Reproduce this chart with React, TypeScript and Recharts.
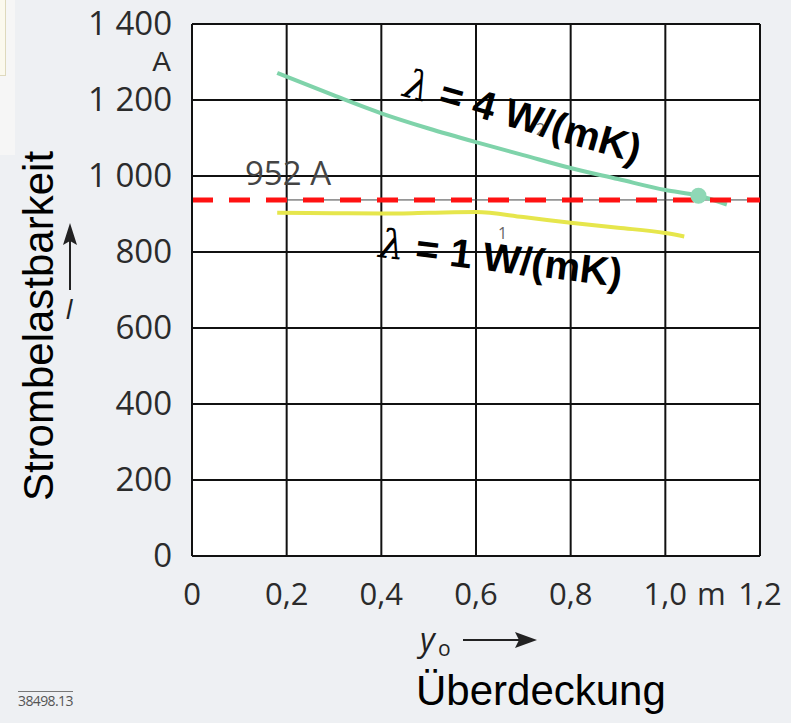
import React from 'react'
import {
    ComposedChart,
    Line,
    Scatter,
    XAxis,
    YAxis,
    CartesianGrid,
    ReferenceLine,
} from 'recharts'

// axis ticks
const xTicks = [0, 0.2, 0.4, 0.6, 0.8, 1.0, 1.2]
const xTickLabels = ['0', '0,2', '0,4', '0,6', '0,8', '1,0', '1,2']
const yTicks = [0, 200, 400, 600, 800, 1000, 1200, 1400]
const yTickLabels = ['0', '200', '400', '600', '800', '1 000', '1 200', '1 400']

// curve 2: lambda = 4 W/(mK)
const lambda4Y0 = [0.18, 0.3, 0.4, 0.5, 0.6, 0.7, 0.8, 0.9, 1.0, 1.07, 1.13]
const lambda4I = [1271, 1212, 1165, 1125, 1089, 1055, 1021, 992, 963, 948, 925]

// curve 1: lambda = 1 W/(mK)
const lambda1Y0 = [0.18, 0.3, 0.4, 0.5, 0.6, 0.7, 0.8, 0.9, 1.0, 1.04]
const lambda1I = [903, 902, 901, 903, 905, 892, 877, 864, 850, 841]

// operating point + limit
const markerY0 = [1.07]
const markerI = [948]
const limitI = 937

const toData = (xs: number[], ys: number[]) => xs.map((x, i) => ({ y0: x, i: ys[i] }))

const FONT = '"Open Sans", sans-serif'
const ARIAL = '"Liberation Sans", Arial, sans-serif'

const XTick = (props: any) => {
    const { x, y, payload, index } = props
    const idx = xTicks.indexOf(payload.value)
    return (
        <g>
            <text x={x} y={y + 49} textAnchor="middle" fontFamily={FONT} fontSize={31} fill="#2b2b2b">
                {xTickLabels[idx >= 0 ? idx : index]}
            </text>
            {payload.value === 1 && (
                <text x={x + 46} y={y + 49} textAnchor="middle" fontFamily={FONT} fontSize={31} fill="#2b2b2b">
                    m
                </text>
            )}
        </g>
    )
}

const YTick = (props: any) => {
    const { y, payload } = props
    const idx = yTicks.indexOf(payload.value)
    return (
        <g>
            <text x={172} y={y + 11} textAnchor="end" fontFamily={FONT} fontSize={33} fill="#2b2b2b">
                {yTickLabels[idx]}
            </text>
            {payload.value === 1400 && (
                <text x={171} y={y + 46.5} textAnchor="end" fontFamily={ARIAL} fontSize={28} fill="#2b2b2b">
                    A
                </text>
            )}
        </g>
    )
}

const Marker = (p: any) => <circle cx={p.cx} cy={p.cy} r={8} fill="#8fd8b6" />

const lambdaStyle: React.CSSProperties = {
    fontFamily: '"DejaVu Serif", serif',
    fontStyle: 'italic',
    fontWeight: 'normal',
}

export default function App() {
    const d4 = toData(lambda4Y0, lambda4I)
    const d1 = toData(lambda1Y0, lambda1I)
    const dm = toData(markerY0, markerI)

    return (
        <div
            style={{
                position: 'fixed',
                left: 0,
                top: 0,
                width: 791,
                height: 723,
                background: '#eef0f3',
                overflow: 'hidden',
            }}
        >
            {/* paper scrap top-left */}
            <div style={{ position: 'absolute', left: 0, top: 0, width: 15, height: 155, background: '#f6f6f6' }} />
            <div
                style={{
                    position: 'absolute',
                    left: 0,
                    top: 0,
                    width: 5,
                    height: 75,
                    background: '#fbf9ee',
                    border: '1px solid #ded9bd',
                    borderLeft: 'none',
                    borderTop: 'none',
                }}
            />

            <ComposedChart
                width={791}
                height={723}
                margin={{ top: 24, right: 31, bottom: 0, left: 0 }}
                style={{ position: 'absolute', left: 0, top: 0 }}
            >
                <CartesianGrid stroke="#111" strokeWidth={2} fill="#fff" />
                <XAxis
                    type="number"
                    dataKey="y0"
                    domain={[0, 1.2]}
                    ticks={xTicks}
                    height={167}
                    tickSize={0}
                    tickMargin={0}
                    axisLine={{ stroke: '#111', strokeWidth: 2 }}
                    tickLine={false}
                    tick={<XTick />}
                    interval={0}
                    allowDuplicatedCategory={false}
                />
                <YAxis
                    type="number"
                    dataKey="i"
                    domain={[0, 1400]}
                    ticks={yTicks}
                    width={192}
                    tickSize={0}
                    axisLine={{ stroke: '#111', strokeWidth: 2 }}
                    tickLine={false}
                    tick={<YTick />}
                    interval={0}
                />
                <ReferenceLine y={1400} stroke="#111" strokeWidth={2} />
                <ReferenceLine x={1.2} stroke="#111" strokeWidth={2} />
                <ReferenceLine
                    segment={[
                        { x: 0.2, y: limitI },
                        { x: 1.2, y: limitI },
                    ]}
                    stroke="#444"
                    strokeWidth={1}
                />
                <Line
                    data={d4}
                    dataKey="i"
                    type="monotone"
                    stroke="#7fd3aa"
                    strokeWidth={4}
                    dot={false}
                    isAnimationActive={false}
                />
                <Line
                    data={d1}
                    dataKey="i"
                    type="monotone"
                    stroke="#e6e64c"
                    strokeWidth={4}
                    dot={false}
                    isAnimationActive={false}
                />
                <Scatter data={dm} dataKey="i" shape={<Marker />} isAnimationActive={false} />
                <ReferenceLine y={limitI} stroke="#ff1212" strokeWidth={5} strokeDasharray="21 16" />
            </ComposedChart>

            {/* annotations */}
            <div style={{ position: 'absolute', left: 245, top: 150, fontFamily: FONT, fontSize: 33, color: '#444' }}>
                952 A
            </div>
            <div style={{ position: 'absolute', left: 536, top: 118, fontFamily: FONT, fontSize: 16, color: '#666' }}>2</div>
            <div style={{ position: 'absolute', left: 498, top: 222, fontFamily: FONT, fontSize: 16, color: '#666' }}>1</div>
            <div
                style={{
                    position: 'absolute',
                    left: 523,
                    top: 116,
                    transform: 'translate(-50%, -50%) rotate(16deg)',
                    whiteSpace: 'nowrap',
                    fontFamily: ARIAL,
                    fontWeight: 'bold',
                    fontSize: 40,
                    color: '#000',
                }}
            >
                <span style={lambdaStyle}>λ</span> = 4 W/(mK)
            </div>
            <div
                style={{
                    position: 'absolute',
                    left: 501,
                    top: 258,
                    transform: 'translate(-50%, -50%) rotate(7deg)',
                    whiteSpace: 'nowrap',
                    fontFamily: ARIAL,
                    fontWeight: 'bold',
                    fontSize: 40,
                    color: '#000',
                }}
            >
                <span style={lambdaStyle}>λ</span> = 1 W/(mK)
            </div>

            {/* y axis title */}
            <div
                style={{
                    position: 'absolute',
                    left: 39,
                    top: 326,
                    transform: 'translate(-50%, -50%) rotate(-90deg)',
                    whiteSpace: 'nowrap',
                    fontFamily: ARIAL,
                    fontSize: 42,
                    color: '#000',
                }}
            >
                Strombelastbarkeit
            </div>
            <svg style={{ position: 'absolute', left: 58, top: 220, overflow: 'visible' }} width={30} height={100}>
                <line x1={12} y1={12} x2={12} y2={70} stroke="#222" strokeWidth={2} />
                <path d="M12 3 L5 25 L12 21 L19 25 Z" fill="#222" />
                <text x={11} y={99} fontFamily={FONT} fontStyle="italic" fontSize={28} fill="#222" textAnchor="middle">
                    I
                </text>
            </svg>

            {/* x axis title */}
            <svg style={{ position: 'absolute', left: 415, top: 616, overflow: 'visible' }} width={130} height={45}>
                <text x={5} y={35} fontFamily={FONT} fontStyle="italic" fontSize={32} fill="#222">
                    y
                </text>
                <text x={23} y={40} fontFamily={FONT} fontSize={21} fill="#222">
                    o
                </text>
                <line x1={48} y1={24} x2={110} y2={24} stroke="#222" strokeWidth={2} />
                <path d="M122 24 L100 16 L104 24 L100 32 Z" fill="#222" />
            </svg>
            <div
                style={{
                    position: 'absolute',
                    left: 416,
                    top: 670,
                    fontFamily: ARIAL,
                    fontSize: 42,
                    lineHeight: '42px',
                    color: '#000',
                    whiteSpace: 'nowrap',
                }}
            >
                Überdeckung
            </div>

            {/* figure number */}
            <div
                style={{
                    position: 'absolute',
                    left: 18,
                    top: 691,
                    fontFamily: FONT,
                    fontSize: 14,
                    color: '#555',
                    borderTop: '1px solid #777',
                    lineHeight: '17px',
                    letterSpacing: -0.6,
                }}
            >
                38498.13
            </div>
        </div>
    )
}
